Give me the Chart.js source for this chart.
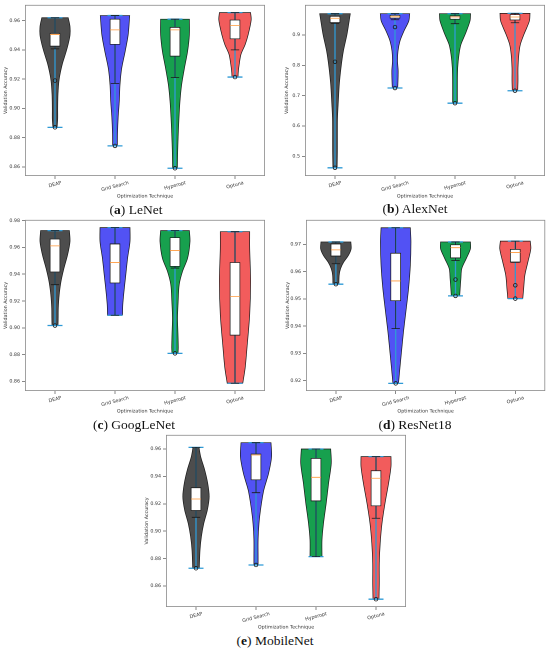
<!DOCTYPE html>
<html lang="en">
<head>
<meta charset="UTF-8">
<title>Validation accuracy by optimization technique</title>
<script src="https://cdn.jsdelivr.net/npm/chart.js"></script>
<style>
  body { margin: 0; background: #fff; }
  #page { position: relative; width: 550px; height: 650px; overflow: hidden; background: #fff; }
  #page canvas { position: absolute; }
  .cap {
    position: absolute;
    transform: translate(-50%, -50%);
    font-family: "Liberation Serif", "DejaVu Serif", serif;
    font-size: 13.5px;
    color: #111;
    white-space: nowrap;
  }
</style>
</head>
<body>
<div id="page">
  <canvas id="lenet"></canvas>
  <canvas id="alexnet"></canvas>
  <canvas id="googlenet"></canvas>
  <canvas id="resnet"></canvas>
  <canvas id="mobilenet"></canvas>
  <div class="cap" style="left:136px; top:210px">(<b>a</b>) LeNet</div>
  <div class="cap" style="left:415px; top:209px">(<b>b</b>) AlexNet</div>
  <div class="cap" style="left:134px; top:425px">(<b>c</b>) GoogLeNet</div>
  <div class="cap" style="left:415px; top:425px">(<b>d</b>) ResNet18</div>
  <div class="cap" style="left:275px; top:641px">(<b>e</b>) MobileNet</div>
</div>
<script>
// ---- data ----
const techniques = ['DEAP', 'Grid Search', 'Hyperopt', 'Optuna'];
const positions = [1, 2, 3, 4];

// violin outlines: [accuracy, half width] from min to max
const lenetProfiles = [
  [[0.887,0.035],[0.893,0.045],[0.900,0.045],[0.910,0.05],[0.920,0.07],[0.930,0.12],[0.938,0.18],[0.944,0.22],[0.950,0.25],[0.956,0.25],[0.962,0.22]],
  [[0.8743,0.04],[0.883,0.042],[0.894,0.053],[0.905,0.072],[0.916,0.083],[0.927,0.11],[0.939,0.17],[0.9505,0.22],[0.9635,0.245]],
  [[0.859,0.04],[0.871,0.045],[0.883,0.055],[0.894,0.067],[0.905,0.083],[0.916,0.11],[0.927,0.155],[0.939,0.21],[0.9505,0.24],[0.961,0.24]],
  [[0.9214,0.05],[0.925,0.055],[0.930,0.07],[0.937,0.1],[0.9437,0.17],[0.9505,0.22],[0.9605,0.27],[0.9655,0.26]]
];
const lenetQ1 = [0.9425, 0.9437, 0.9357, 0.9475];
const lenetMedian = [0.9505, 0.9537, 0.9537, 0.9566];
const lenetQ3 = [0.9514, 0.9611, 0.9555, 0.9605];
const lenetWhiskerLow = [0.9407, 0.917, 0.921, 0.940];
const lenetWhiskerHigh = [0.962, 0.9635, 0.961, 0.9655];
const lenetFliers = [[0.919, 0.887], [0.8743], [0.859], [0.9214]];
const lenetTicks = [0.86, 0.88, 0.90, 0.92, 0.94, 0.96];

const alexnetProfiles = [
  [[0.462,0.035],[0.519,0.04],[0.574,0.04],[0.628,0.042],[0.683,0.056],[0.738,0.072],[0.792,0.1],[0.847,0.14],[0.902,0.2],[0.970,0.255]],
  [[0.725,0.045],[0.749,0.05],[0.782,0.053],[0.814,0.042],[0.847,0.05],[0.880,0.083],[0.913,0.15],[0.946,0.23],[0.970,0.245]],
  [[0.675,0.04],[0.738,0.04],[0.792,0.045],[0.836,0.067],[0.869,0.1],[0.902,0.17],[0.946,0.25],[0.970,0.26]],
  [[0.716,0.045],[0.749,0.05],[0.792,0.05],[0.836,0.064],[0.869,0.09],[0.902,0.15],[0.946,0.24],[0.971,0.25]]
];
const alexnetQ1 = [0.940, 0.955, 0.9515, 0.949];
const alexnetMedian = [0.955, 0.960, 0.959, 0.959];
const alexnetQ3 = [0.962, 0.965, 0.963, 0.967];
const alexnetWhiskerLow = [0.938, 0.950, 0.937, 0.940];
const alexnetWhiskerHigh = [0.970, 0.970, 0.970, 0.971];
const alexnetFliers = [[0.8115, 0.462], [0.926, 0.725], [0.675], [0.716]];
const alexnetTicks = [0.5, 0.6, 0.7, 0.8, 0.9];

const googlenetProfiles = [
  [[0.9017,0.05],[0.9074,0.053],[0.9148,0.055],[0.9247,0.07],[0.9346,0.1],[0.9446,0.15],[0.9545,0.21],[0.9644,0.25],[0.9726,0.24]],
  [[0.9094,0.125],[0.9173,0.13],[0.9272,0.15],[0.9396,0.18],[0.952,0.21],[0.9644,0.25],[0.9748,0.25]],
  [[0.8809,0.05],[0.8851,0.055],[0.895,0.05],[0.9074,0.042],[0.9198,0.053],[0.9322,0.07],[0.9421,0.125],[0.952,0.21],[0.9644,0.25],[0.9726,0.24]],
  [[0.8586,0.13],[0.8702,0.17],[0.8851,0.2],[0.9099,0.245],[0.9346,0.26],[0.9594,0.245],[0.9718,0.245]]
];
const googlenetQ1 = [0.9416, 0.9334, 0.9458, 0.8945];
const googlenetMedian = [0.9612, 0.9488, 0.9577, 0.9233];
const googlenetQ3 = [0.9664, 0.9627, 0.9674, 0.9488];
const googlenetWhiskerLow = [0.9322, 0.9094, 0.9446, 0.8586];
const googlenetWhiskerHigh = [0.9726, 0.9748, 0.9726, 0.9718];
const googlenetFliers = [[0.9017], [], [0.8809], []];
const googlenetTicks = [0.86, 0.88, 0.90, 0.92, 0.94, 0.96, 0.98];

const resnetProfiles = [
  [[0.9554,0.05],[0.9587,0.055],[0.9611,0.078],[0.9635,0.13],[0.966,0.21],[0.9684,0.255],[0.9709,0.25]],
  [[0.919,0.047],[0.9245,0.07],[0.9306,0.097],[0.9379,0.13],[0.9452,0.17],[0.9538,0.215],[0.9623,0.245],[0.9709,0.255],[0.9761,0.245]],
  [[0.9511,0.07],[0.9538,0.078],[0.9574,0.09],[0.9611,0.105],[0.9648,0.18],[0.9684,0.25],[0.9709,0.25]],
  [[0.9501,0.125],[0.9538,0.14],[0.9587,0.16],[0.9635,0.21],[0.9684,0.26],[0.9712,0.25]]
];
const resnetQ1 = [0.9657, 0.9493, 0.965, 0.9635];
const resnetMedian = [0.968, 0.9566, 0.9688, 0.967];
const resnetQ3 = [0.9702, 0.9668, 0.9699, 0.9682];
const resnetWhiskerLow = [0.9629, 0.9391, 0.9641, 0.9634];
const resnetWhiskerHigh = [0.9709, 0.9761, 0.9709, 0.9712];
const resnetFliers = [[0.9554], [0.919], [0.9571, 0.9511], [0.955, 0.9501]];
const resnetTicks = [0.92, 0.93, 0.94, 0.95, 0.96, 0.97];

const mobilenetProfiles = [
  [[0.8729,0.055],[0.8863,0.067],[0.896,0.09],[0.9057,0.13],[0.9155,0.19],[0.9252,0.22],[0.935,0.195],[0.9447,0.145],[0.9544,0.078],[0.9612,0.05]],
  [[0.8753,0.035],[0.8814,0.035],[0.8936,0.035],[0.9057,0.05],[0.9179,0.083],[0.93,0.13],[0.9422,0.21],[0.9544,0.26],[0.9646,0.25]],
  [[0.8814,0.1],[0.8936,0.1],[0.9057,0.125],[0.9203,0.17],[0.935,0.21],[0.9495,0.255],[0.960,0.245]],
  [[0.8503,0.05],[0.8619,0.055],[0.8766,0.055],[0.8911,0.07],[0.9057,0.1],[0.9203,0.15],[0.935,0.21],[0.9471,0.25],[0.9544,0.25]]
];
const mobilenetQ1 = [0.915, 0.9374, 0.922, 0.9184];
const mobilenetMedian = [0.9235, 0.9556, 0.9393, 0.9386];
const mobilenetQ3 = [0.9318, 0.9564, 0.9532, 0.9442];
const mobilenetWhiskerLow = [0.9101, 0.9281, 0.8814, 0.9094];
const mobilenetWhiskerHigh = [0.9612, 0.9646, 0.960, 0.9544];
const mobilenetFliers = [[0.8729], [0.8753], [], [0.8503]];
const mobilenetTicks = [0.86, 0.88, 0.90, 0.92, 0.94, 0.96];

// ---- look ----
const FONT = 'DejaVu Sans';
const SMALL = 4.8;
const violinColors = ['#4d4d4d', '#5252f4', '#17a04e', '#f25c5c'];
const extremaColor = '#2f9ad6';
const BOX_HALF = 0.083;   // x units
const CAP_HALF = 0.07;
const EXT_HALF = 0.125;

// canvas placement for each panel (page pixels); plot area bottom sits plotBottom px below canvas top
const panels = [
  { id: 'lenet', left: 0, top: 0, w: 275, h: 200, pad: {left: 2, top: 3, right: 10, bottom: 0}, yW: 23, plotBottom: 176,
    yMin: 0.8537, yMax: 0.9708, dec: 2, ticks: lenetTicks, profiles: lenetProfiles, q1: lenetQ1, med: lenetMedian,
    q3: lenetQ3, wLo: lenetWhiskerLow, wHi: lenetWhiskerHigh, fliers: lenetFliers },
  { id: 'alexnet', left: 275, top: 0, w: 275, h: 200, pad: {left: 8, top: 3, right: 5, bottom: 0}, yW: 22, plotBottom: 176,
    yMin: 0.435, yMax: 0.999, dec: 1, ticks: alexnetTicks, profiles: alexnetProfiles, q1: alexnetQ1, med: alexnetMedian,
    q3: alexnetQ3, wLo: alexnetWhiskerLow, wHi: alexnetWhiskerHigh, fliers: alexnetFliers },
  { id: 'googlenet', left: 0, top: 215, w: 275, h: 200, pad: {left: 2, top: 4, right: 10, bottom: 0}, yW: 23, plotBottom: 176,
    yMin: 0.8528, yMax: 0.9806, dec: 2, ticks: googlenetTicks, profiles: googlenetProfiles, q1: googlenetQ1, med: googlenetMedian,
    q3: googlenetQ3, wLo: googlenetWhiskerLow, wHi: googlenetWhiskerHigh, fliers: googlenetFliers },
  { id: 'resnet', left: 275, top: 215, w: 275, h: 200, pad: {left: 9, top: 4, right: 4, bottom: 0}, yW: 22, plotBottom: 176,
    yMin: 0.9162, yMax: 0.979, dec: 2, ticks: resnetTicks, profiles: resnetProfiles, q1: resnetQ1, med: resnetMedian,
    q3: resnetQ3, wLo: resnetWhiskerLow, wHi: resnetWhiskerHigh, fliers: resnetFliers },
  { id: 'mobilenet', left: 135, top: 430, w: 280, h: 201, pad: {left: 8, top: 4, right: 9, bottom: 0}, yW: 23, plotBottom: 177,
    yMin: 0.8446, yMax: 0.9703, dec: 2, ticks: mobilenetTicks, profiles: mobilenetProfiles, q1: mobilenetQ1, med: mobilenetMedian,
    q3: mobilenetQ3, wLo: mobilenetWhiskerLow, wHi: mobilenetWhiskerHigh, fliers: mobilenetFliers }
];

// closed outline: up the right side, down the left side (corners doubled so they stay sharp)
function violinShape(pos, profile) {
  const right = profile.map(([y, w]) => ({x: pos + w, y: y}));
  const left = profile.map(([y, w]) => ({x: pos - w, y: y})).reverse();
  const n = right.length;
  return [right[0], ...right, right[n - 1], left[0], ...left, left[n - 1], right[0]];
}

// list of [p1, p2] pairs -> one line with gaps between pairs
function segments(pairs) {
  const out = [];
  pairs.forEach(([a, b]) => { out.push(a, b, {x: b.x, y: null}); });
  return out;
}

// frame around the plot area + rotated category labels
const axesDecor = {
  id: 'axesDecor',
  afterDraw(chart) {
    const {ctx, chartArea: a, scales} = chart;
    ctx.save();
    ctx.strokeStyle = '#8a8a8a';
    ctx.lineWidth = 0.8;
    ctx.strokeRect(a.left + 0.4, a.top + 0.4, a.right - a.left - 0.8, a.bottom - a.top - 0.8);
    ctx.font = SMALL + 'px "' + FONT + '"';
    ctx.fillStyle = '#333';
    ctx.textAlign = 'center';
    ctx.textBaseline = 'middle';
    const ang = 15 * Math.PI / 180;
    techniques.forEach((t, i) => {
      const x = scales.x.getPixelForValue(positions[i]);
      const w = ctx.measureText(t).width;
      const bh = w * Math.sin(ang) + SMALL * Math.cos(ang);
      const y = a.bottom + 4.5 + bh / 2;
      ctx.save();
      ctx.translate(x, y);
      ctx.rotate(-ang);
      ctx.fillText(t, 0, 0);
      ctx.restore();
    });
    ctx.restore();
  }
};

function buildPanel(p) {
  const canvas = document.getElementById(p.id);
  canvas.width = p.w;
  canvas.height = p.h;
  canvas.style.left = p.left + 'px';
  canvas.style.top = p.top + 'px';
  canvas.style.width = p.w + 'px';
  canvas.style.height = p.h + 'px';

  const datasets = [];
  const extrema = [], whiskers = [], medians = [], fliers = [], boxes = [];

  positions.forEach((pos, i) => {
    const prof = p.profiles[i];
    const lo = prof[0][0], hi = prof[prof.length - 1][0];
    datasets.push({
      data: violinShape(pos, prof),
      showLine: true, fill: 'shape', tension: 0.3,
      backgroundColor: violinColors[i], borderColor: '#1a1a1a', borderWidth: 0.7,
      pointRadius: 0, order: 10
    });
    extrema.push([{x: pos - EXT_HALF, y: lo}, {x: pos + EXT_HALF, y: lo}]);
    extrema.push([{x: pos - EXT_HALF, y: hi}, {x: pos + EXT_HALF, y: hi}]);
    extrema.push([{x: pos, y: lo}, {x: pos, y: hi}]);
    whiskers.push([{x: pos, y: p.q1[i]}, {x: pos, y: p.wLo[i]}]);
    whiskers.push([{x: pos, y: p.q3[i]}, {x: pos, y: p.wHi[i]}]);
    whiskers.push([{x: pos - CAP_HALF, y: p.wLo[i]}, {x: pos + CAP_HALF, y: p.wLo[i]}]);
    whiskers.push([{x: pos - CAP_HALF, y: p.wHi[i]}, {x: pos + CAP_HALF, y: p.wHi[i]}]);
    medians.push([{x: pos - BOX_HALF, y: p.med[i]}, {x: pos + BOX_HALF, y: p.med[i]}]);
    boxes.push({x: pos, y: [p.q1[i], p.q3[i]]});
    p.fliers[i].forEach(v => fliers.push({x: pos, y: v}));
  });

  datasets.push({
    data: segments(extrema), showLine: true, spanGaps: false, tension: 0,
    borderColor: extremaColor, borderWidth: 1.3, pointRadius: 0, order: 8
  });
  datasets.push({
    type: 'bar', data: boxes, grouped: false, barThickness: 10,
    backgroundColor: '#ffffff', borderColor: '#1a1a1a', borderWidth: 0.8, borderSkipped: false, order: 6
  });
  datasets.push({
    data: segments(whiskers), showLine: true, spanGaps: false, tension: 0,
    borderColor: '#1a1a1a', borderWidth: 0.8, pointRadius: 0, order: 5
  });
  datasets.push({
    data: segments(medians), showLine: true, spanGaps: false, tension: 0,
    borderColor: '#ff9a3c', borderWidth: 0.8, pointRadius: 0, order: 4
  });
  datasets.push({
    data: fliers, showLine: false, pointRadius: 1.8, pointBorderWidth: 0.8,
    pointBorderColor: '#1a1a1a', pointBackgroundColor: 'rgba(0,0,0,0)', order: 3
  });

  new Chart(canvas, {
    type: 'scatter',
    data: { datasets: datasets },
    options: {
      responsive: false,
      animation: false,
      events: [],
      devicePixelRatio: 2,
      layout: { padding: p.pad },
      plugins: { legend: { display: false }, tooltip: { enabled: false } },
      scales: {
        x: {
          type: 'linear', min: 0.5, max: 4.5, offset: false,
          afterBuildTicks: s => { s.ticks = positions.map(v => ({value: v})); },
          afterFit: s => { s.height = p.h - p.plotBottom; },
          ticks: { display: false },
          grid: { offset: false, drawOnChartArea: false, drawTicks: true, tickLength: 3, color: '#555', lineWidth: 0.7 },
          border: { display: false },
          title: { display: true, text: 'Optimization Technique', color: '#333',
                   font: { family: FONT, size: SMALL }, padding: { top: 0, bottom: 1 } }
        },
        y: {
          type: 'linear', min: p.yMin, max: p.yMax,
          afterBuildTicks: s => { s.ticks = p.ticks.map(v => ({value: v})); },
          afterFit: s => { s.width = p.yW; },
          ticks: { callback: v => Number(v).toFixed(p.dec), color: '#333', padding: 2, autoSkip: false,
                   font: { family: FONT, size: SMALL } },
          grid: { drawOnChartArea: false, drawTicks: true, tickLength: 3, color: '#555', lineWidth: 0.7 },
          border: { display: false },
          title: { display: true, text: 'Validation Accuracy', color: '#333',
                   font: { family: FONT, size: SMALL }, padding: { top: 1, bottom: 0 } }
        }
      }
    },
    plugins: [axesDecor]
  });
}

panels.forEach(buildPanel);
</script>
</body>
</html>
